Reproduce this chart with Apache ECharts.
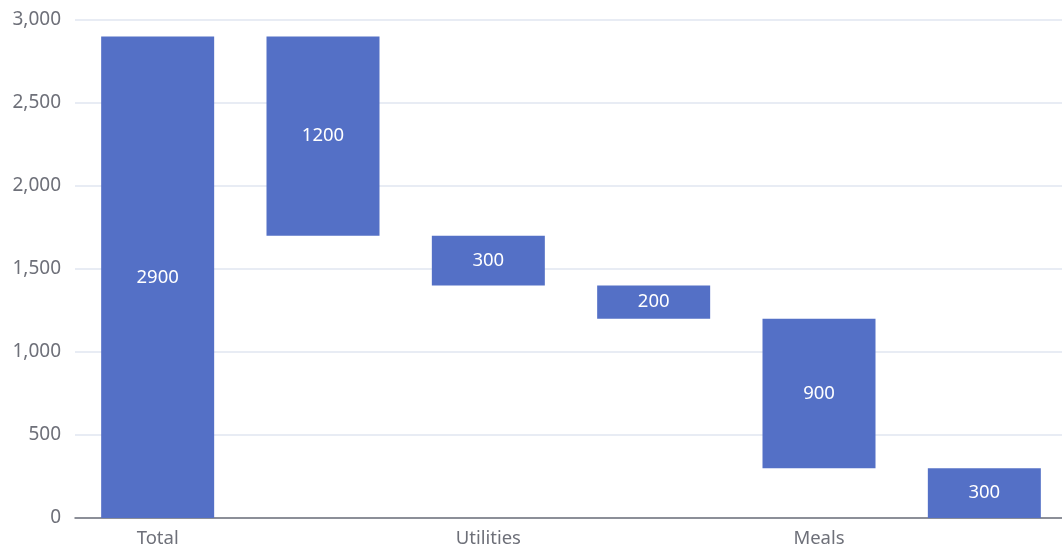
<!DOCTYPE html>
<html>
<head>
  <meta charset="utf-8" />
  <script src="https://cdn.jsdelivr.net/npm/echarts@6/dist/echarts.min.js"></script>
  <style>
    html, body { margin: 0; padding: 0; background: #fff; overflow: hidden; }
    /* 原图右侧被裁掉一点，所以画布略宽于窗口 */
    #main { width: 1067px; height: 550px; }
  </style>
</head>
<body>
  <div id="main"></div>
  <script>
    // 分类
    var categories = ['Total', 'Rent', 'Utilities', 'Transportation', 'Meals', 'Other'];
    // 透明的底座
    var placeholder = [0, 1700, 1400, 1200, 300, 0];
    // 实际数值
    var values = [2900, 1200, 300, 200, 900, 300];

    var myChart = echarts.init(document.getElementById('main'));
    var option = {
      animation: false,
      textStyle: { fontFamily: '"Noto Sans", sans-serif' },
      grid: { left: 75, top: 20, bottom: 32, right: 0, containLabel: false },
      xAxis: {
        type: 'category',
        data: categories,
        axisLine: { lineStyle: { color: '#6e7079', width: 1.5 } },
        axisTick: { interval: 1, length: 6, lineStyle: { color: '#6e7079' } },
        axisLabel: { interval: 1, fontSize: 18.5, color: '#6e7079', margin: 11 }
      },
      yAxis: {
        type: 'value',
        min: 0,
        max: 3000,
        interval: 500,
        axisLabel: { fontSize: 19, color: '#6e7079', margin: 14 },
        splitLine: { lineStyle: { color: '#e0e6f1', width: 1.5 } }
      },
      series: [
        {
          name: 'Placeholder',
          type: 'bar',
          stack: 'Total',
          barWidth: 113,
          itemStyle: { borderColor: 'transparent', color: 'transparent' },
          emphasis: { disabled: true },
          data: placeholder
        },
        {
          name: 'Life Cost',
          type: 'bar',
          stack: 'Total',
          barWidth: 113,
          itemStyle: { color: '#5470c6' },
          label: { show: true, position: 'inside', color: '#fff', fontSize: 18.5 },
          data: values
        }
      ]
    };
    myChart.setOption(option);
  </script>
</body>
</html>
